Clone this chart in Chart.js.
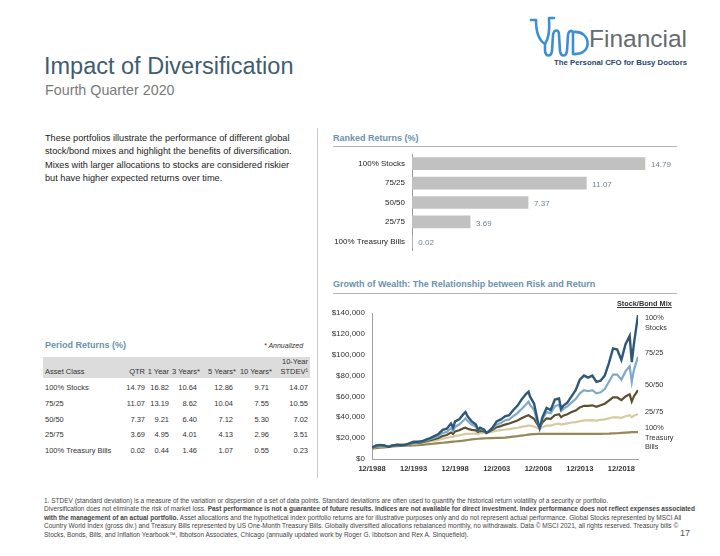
<!DOCTYPE html>
<html>
<head>
<meta charset="utf-8">
<script src="https://cdn.jsdelivr.net/npm/chart.js@4.4.1/dist/chart.umd.min.js"></script>
<style>
  body { margin:0; width:720px; height:556px; position:relative; overflow:hidden; background:#fff;
         font-family:"Liberation Sans", Arial, sans-serif; color:#222; }
  .abs { position:absolute; white-space:nowrap; }
  .hdr { font-size:9px; font-weight:bold; color:#6a92ae; line-height:9px; }
  .rule { position:absolute; height:1px; background:#b4b4b4; }
  .cell { position:absolute; white-space:nowrap; font-size:7.5px; line-height:8px; color:#333; }
  .mix { position:absolute; white-space:nowrap; font-size:7.3px; line-height:9.5px; color:#333; }
  .foot { position:absolute; left:44px; white-space:nowrap; font-family:"Liberation Sans Narrow","Arial Narrow",sans-serif;
          font-size:6.5px; line-height:7px; color:#444; }
</style>
</head>
<body>

<!-- logo -->
<svg class="abs" style="left:0;top:0" width="720" height="70">
  <path d="M531,20 h5 M536,20 C536,34 540,41 545,44 M549,18 h5 M549,18 C550,32 548,40 545,44 L545,51 C546,57 551,57 552,51 L553,35 C554,29 559,29 559,35 L560,51 C561,57 566,57 567,51 L568,35 C569,30 572,30 573,33 L573,54 M573,32 C592,30 593,56 573,54"
        fill="none" stroke="#3d8fd4" stroke-width="2.6" stroke-linecap="round" stroke-linejoin="round"/>
</svg>
<div class="abs" style="left:589px;top:27px;font-size:24.5px;line-height:24.5px;color:#666b70;">Financial</div>
<div class="abs" style="left:554px;top:58.8px;font-size:7.8px;line-height:8px;font-weight:bold;color:#26466e;">The Personal CFO for Busy Doctors</div>

<div class="abs" style="left:44px;top:55px;font-size:23.5px;line-height:23.5px;color:#3f5c70;">Impact of Diversification</div>
<div class="abs" style="left:45px;top:83px;font-size:14.3px;line-height:14.3px;color:#7a7a7a;">Fourth Quarter 2020</div>

<div class="abs" style="left:45px;top:131.5px;font-size:9.2px;line-height:13.5px;color:#222;">
These portfolios illustrate the performance of different global<br>
stock/bond mixes and highlight the benefits of diversification.<br>
Mixes with larger allocations to stocks are considered riskier<br>
but have higher expected returns over time.</div>

<div class="abs" style="left:317px;top:128px;width:1px;height:350px;background:#c6c6c6;"></div>

<div class="abs hdr" style="left:333px;top:133.5px;">Ranked Returns (%)</div>
<div class="rule" style="left:333px;top:146px;width:344px;"></div>
<canvas id="rankChart" class="abs" style="left:333px;top:154px;" width="357" height="97"></canvas>

<div class="abs hdr" style="left:333px;top:279.5px;">Growth of Wealth: The Relationship between Risk and Return</div>
<div class="rule" style="left:333px;top:293px;width:344px;"></div>
<canvas id="wealthChart" class="abs" style="left:322px;top:305px;" width="323" height="176"></canvas>
<div id="mixLabels"></div>

<div class="abs hdr" style="left:45px;top:340.5px;">Period Returns (%)</div>
<div class="abs" style="left:264px;top:342px;font-size:7px;line-height:8px;font-style:italic;color:#333;">* Annualized</div>
<div class="abs" style="left:43px;top:357px;width:267px;height:21px;background:#dcdcdc;"></div>
<div id="periodTable"></div>

<div id="footnote"></div>
<div class="abs" style="left:680px;top:528px;font-size:9px;line-height:10px;color:#555;">17</div>

<script>
// ranked returns
var rankLabels = ["100% Stocks", "75/25", "50/50", "25/75", "100% Treasury Bills"];
var rankedReturns = [14.79, 11.07, 7.37, 3.69, 0.02];

// period returns table
var assetClasses = ["100% Stocks", "75/25", "50/50", "25/75", "100% Treasury Bills"];
var qtr = [14.79, 11.07, 7.37, 3.69, 0.02];
var oneYear = [16.82, 13.19, 9.21, 4.95, 0.44];
var threeYears = [10.64, 8.62, 6.40, 4.01, 1.46];
var fiveYears = [12.86, 10.04, 7.12, 4.13, 1.07];
var tenYears = [9.71, 7.55, 5.30, 2.96, 0.55];
var tenYearStdev = [14.07, 10.55, 7.02, 3.51, 0.23];

// growth of wealth ($ thousands)
var wealthTicks = ["12/1988", "12/1993", "12/1998", "12/2003", "12/2008", "12/2013", "12/2018"];
var dates = [
  "12/1988","06/1989","12/1989","06/1990","12/1990","06/1991","12/1991","06/1992","12/1992","06/1993",
  "12/1993","06/1994","12/1994","06/1995","12/1995","06/1996","12/1996","06/1997","12/1997","06/1998",
  "09/1998","12/1998","06/1999","12/1999","03/2000","06/2000","12/2000","06/2001","09/2001","12/2001",
  "06/2002","09/2002","12/2002","06/2003","12/2003","06/2004","12/2004","06/2005","12/2005","06/2006",
  "12/2006","06/2007","10/2007","12/2007","06/2008","12/2008","02/2009","06/2009","12/2009","06/2010",
  "12/2010","06/2011","09/2011","12/2011","06/2012","12/2012","06/2013","12/2013","06/2014","12/2014",
  "06/2015","12/2015","06/2016","12/2016","06/2017","12/2017","06/2018","12/2018","06/2019","12/2019",
  "03/2020","06/2020","12/2020"
];
var stocks100 = [
  11, 13, 13.5, 13, 11.5, 13, 13.5, 13.2, 13.5, 15,
  16.5, 16.5, 17, 18.5, 20, 22, 24, 28, 29, 34,
  30, 36, 38, 43, 45, 41, 36, 33, 28, 30,
  28, 25, 26, 30, 36, 38, 41, 42, 47, 51,
  57, 62, 64.5, 60, 53, 34, 29.5, 40, 49, 47,
  57, 58, 48, 51, 54, 60, 66, 76, 80, 78,
  80, 74, 75, 80, 92, 106, 105, 95, 110, 118,
  93, 110, 138
];
var mix7525 = [
  10.8, 12.5, 13, 12.8, 11.8, 13, 13.6, 13.4, 13.7, 14.8,
  16, 16, 16.5, 17.8, 19, 20.5, 22, 25, 26, 29.5,
  27, 31, 33, 37, 39, 36.5, 33, 31, 27.5, 29,
  27.5, 25.5, 26.5, 29.5, 33, 34.5, 37, 38, 41, 44,
  48, 52, 55, 52, 47, 33, 30, 38, 45, 44,
  50.5, 52, 46, 48, 50.5, 54, 57.5, 63, 66, 65,
  66, 63, 64, 67, 74, 81, 81, 76, 84, 89,
  74, 85, 98
];
var mix5050 = [
  10.5, 12, 12.5, 12.5, 12, 13, 13.6, 13.6, 13.9, 14.6,
  15.4, 15.4, 15.9, 17, 18, 19, 20.2, 22, 23, 25.3,
  24, 26.5, 27.5, 29.5, 30, 29, 28, 27.5, 26, 27,
  26.5, 25.5, 26, 28, 30.5, 31.5, 33, 34, 35.5, 37,
  39, 41, 42, 41, 38.5, 32, 30, 35, 39, 38.5,
  42, 43, 40, 41.5, 43, 45, 46.5, 49.5, 51, 51,
  51.5, 50, 51.5, 53, 56, 59, 59, 56.5, 60, 62,
  55, 60, 66
];
var mix2575 = [
  10.3, 11.5, 12.2, 12.4, 12.3, 13, 13.7, 13.9, 14.2, 14.5,
  15, 15, 15.4, 16.2, 16.9, 17.5, 18.4, 19.5, 20.2, 21.4,
  21, 22.2, 22.7, 23.6, 24, 24, 24.2, 24.5, 24.2, 25,
  25, 24.8, 25.3, 26.2, 27.2, 27.6, 28.3, 28.7, 29.3, 30,
  30.8, 31.5, 32, 32, 31.2, 29.5, 28.5, 30.5, 32, 32,
  33.3, 34, 33, 33.5, 34.2, 35, 35.3, 36.2, 37, 37,
  37.2, 36.8, 37.6, 38, 39, 40, 40, 39.5, 41, 42,
  40, 41.5, 43
];
var tbills100 = [
  10, 10.4, 10.8, 11.2, 11.6, 12, 12.3, 12.5, 12.7, 12.9,
  13.1, 13.3, 13.6, 14, 14.4, 14.8, 15.2, 15.6, 16, 16.4,
  16.6, 16.8, 17.2, 17.6, 17.9, 18.2, 18.8, 19.2, 19.4, 19.6,
  19.8, 19.9, 20, 20.1, 20.2, 20.3, 20.5, 20.9, 21.4, 21.9,
  22.5, 23, 23.4, 23.6, 23.9, 24.1, 24.1, 24.1, 24.1, 24.1,
  24.1, 24.1, 24.1, 24.1, 24.1, 24.1, 24.1, 24.1, 24.1, 24.1,
  24.1, 24.1, 24.1, 24.2, 24.3, 24.5, 24.7, 25, 25.3, 25.6,
  25.7, 25.7, 25.7
];

var footLines = [
  "1. STDEV (standard deviation) is a measure of the variation or dispersion of a set of data points. Standard deviations are often used to quantify the historical return volatility of a security or portfolio.",
  "Diversification does not eliminate the risk of market loss. <b>Past performance is not a guarantee of future results. Indices are not available for direct investment. Index performance does not reflect expenses associated</b>",
  "<b>with the management of an actual portfolio.</b> Asset allocations and the hypothetical index portfolio returns are for illustrative purposes only and do not represent actual performance. Global Stocks represented by MSCI All",
  "Country World Index (gross div.) and Treasury Bills represented by US One-Month Treasury Bills. Globally diversified allocations rebalanced monthly, no withdrawals. Data \u00a9 MSCI 2021, all rights reserved. Treasury bills \u00a9",
  "Stocks, Bonds, Bills, and Inflation Yearbook\u2122, Ibbotson Associates, Chicago (annually updated work by Roger G. Ibbotson and Rex A. Sinquefield)."
];

Chart.defaults.font.family = '"Liberation Sans", Arial, sans-serif';

// "MM/YYYY" -> year where 12/YYYY lands on YYYY
function toYear(s) {
  var p = s.split("/");
  return +p[1] + (+p[0] - 12) / 12;
}

// table
var table = document.getElementById("periodTable");
var colRight = [145, 169, 197, 233, 269, 308];
var headRight = [145, 169, 200, 236, 272, 308];
var heads = ["QTR", "1 Year", "3 Years*", "5 Years*", "10 Years*", "STDEV\u00b9"];
function addCell(text, right, left, centerY) {
  var d = document.createElement("div");
  d.className = "cell";
  d.innerHTML = text;
  if (left != null) d.style.left = left + "px";
  else d.style.right = (720 - right) + "px";
  d.style.top = (centerY - 4) + "px";
  table.appendChild(d);
}
addCell("Asset Class", null, 45, 372);
heads.forEach(function(h, i) { addCell(h, headRight[i], null, 372); });
addCell("10-Year", 308, null, 362);
var cols = [qtr, oneYear, threeYears, fiveYears, tenYears, tenYearStdev];
var rowY = [388, 404, 419.5, 434.5, 450.5];
assetClasses.forEach(function(name, r) {
  addCell(name, null, 45, rowY[r]);
  cols.forEach(function(col, c) { addCell(col[r].toFixed(2), colRight[c], null, rowY[r]); });
});

// footnote
var foot = document.getElementById("footnote");
var footY = [500, 508.6, 517.2, 525.8, 534.4];
footLines.forEach(function(t, i) {
  var d = document.createElement("div");
  d.className = "foot";
  d.innerHTML = t;
  d.style.top = (footY[i] - 3.5) + "px";
  foot.appendChild(d);
});

// mix labels on the right of the growth chart
var mixLabels = document.getElementById("mixLabels");
[
  ["<b><u>Stock/Bond Mix</u></b>", 617, 304],
  ["100%<br>Stocks", 645, 322.5],
  ["75/25", 645, 352.7],
  ["50/50", 645, 385],
  ["25/75", 645, 411.7],
  ["100%<br>Treasury<br>Bills", 645, 437.5]
].forEach(function(m) {
  var d = document.createElement("div");
  d.className = "mix";
  d.innerHTML = m[0];
  d.style.left = m[1] + "px";
  var lines = m[0].split("<br>").length;
  d.style.top = (m[2] - lines * 9.5 / 2) + "px";
  mixLabels.appendChild(d);
});

var barValueLabels = {
  id: "barValueLabels",
  afterDatasetsDraw: function(chart) {
    var ctx = chart.ctx;
    var meta = chart.getDatasetMeta(0);
    ctx.save();
    ctx.font = '8px "Liberation Sans", Arial, sans-serif';
    ctx.fillStyle = "#6d8295";
    ctx.textBaseline = "middle";
    meta.data.forEach(function(bar, i) {
      ctx.fillText(rankedReturns[i].toFixed(2), bar.x + 6, bar.y + 1.5);
    });
    ctx.restore();
  }
};

// drop the extra label padding chart.js puts above/below a vertical axis
function noAxisPad(s) {
  s.paddingTop = 0;
  s.paddingBottom = 0;
}

new Chart(document.getElementById("rankChart"), {
  type: "bar",
  data: {
    labels: rankLabels,
    datasets: [{ data: rankedReturns, backgroundColor: "#c1c1c1", borderWidth: 0, barThickness: 12 }]
  },
  options: {
    indexAxis: "y",
    responsive: false,
    animation: false,
    layout: { padding: { right: 26 } },
    plugins: { legend: { display: false }, tooltip: { enabled: false } },
    scales: {
      x: { display: false, min: 0, max: 16 },
      y: {
        grid: { display: false, drawTicks: false },
        border: { display: true, color: "#9a9a9a", width: 1 },
        ticks: { color: "#222", font: { size: 8 }, padding: 7 },
        afterFit: function(s) { s.width = 79; noAxisPad(s); }
      }
    }
  },
  plugins: [barValueLabels]
});

function pts(values) {
  return dates.map(function(d, i) { return { x: toYear(d), y: values[i] }; });
}

new Chart(document.getElementById("wealthChart"), {
  type: "line",
  data: {
    datasets: [
      { label: "100% Stocks", data: pts(stocks100), borderColor: "#2d5878", borderWidth: 2.4 },
      { label: "75/25", data: pts(mix7525), borderColor: "#7eaac8", borderWidth: 2.2 },
      { label: "50/50", data: pts(mix5050), borderColor: "#5c5030", borderWidth: 2.2 },
      { label: "25/75", data: pts(mix2575), borderColor: "#d6caa0", borderWidth: 2.2 },
      { label: "100% Treasury Bills", data: pts(tbills100), borderColor: "#958756", borderWidth: 2.2 }
    ]
  },
  options: {
    responsive: false,
    animation: false,
    layout: { padding: { top: 8, right: 7 } },
    plugins: { legend: { display: false }, tooltip: { enabled: false } },
    elements: { point: { radius: 0 }, line: { tension: 0 } },
    scales: {
      x: {
        type: "linear", min: 1988, max: 2020,
        grid: { display: false, drawTicks: false },
        border: { display: true, color: "#a0a0a0" },
        afterBuildTicks: function(s) {
          s.ticks = wealthTicks.map(function(t) { return { value: toYear(t) }; });
        },
        ticks: {
          autoSkip: false, maxRotation: 0, padding: 5, color: "#333",
          font: { size: 7.5, weight: "bold" },
          callback: function(v) {
            for (var i = 0; i < wealthTicks.length; i++) if (toYear(wealthTicks[i]) === v) return wealthTicks[i];
            return "";
          }
        },
        afterFit: function(s) { s.height = 22; }
      },
      y: {
        min: 0, max: 140,
        grid: { display: false, drawTicks: false },
        border: { display: true, color: "#a0a0a0" },
        ticks: {
          stepSize: 20, padding: 7, color: "#333", font: { size: 8 },
          callback: function(v) { return v === 0 ? "$0" : "$" + v + ",000"; }
        },
        afterFit: function(s) { s.width = 50; noAxisPad(s); }
      }
    }
  }
});
</script>
</body>
</html>
